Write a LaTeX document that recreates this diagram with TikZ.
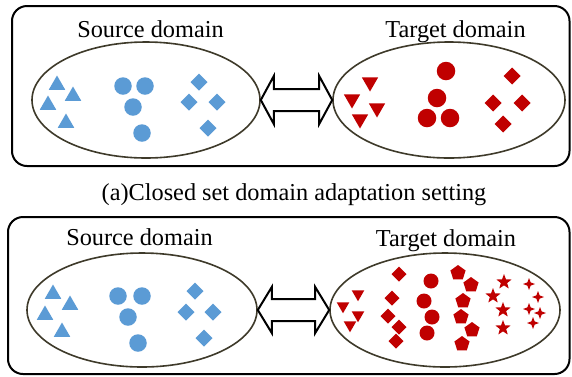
\documentclass[tikz,border=0pt]{standalone}
\usepackage{fontspec}
\setmainfont{Liberation Serif}
\usetikzlibrary{shapes.geometric,calc}
\definecolor{sblue}{RGB}{91,155,213}
\definecolor{tred}{RGB}{192,0,0}
\definecolor{ecol}{RGB}{62,58,42}
\begin{document}
\begin{tikzpicture}[x=1pt,y=-1pt,
  frame/.style={draw=black,line width=2pt,rounded corners=15pt},
  dom/.style={draw=ecol,line width=1.6pt,ellipse,inner sep=0pt},
  lbl/.style={font=\fontsize{24.3}{28}\selectfont,anchor=base,inner sep=0pt},
  dbl/.style={draw=black,line width=2pt,fill=white},
  mk/.style={inner sep=0pt,outer sep=0pt,draw=none},
  tri/.style={mk,regular polygon,regular polygon sides=3,minimum size=#1},
  vtri/.style={tri=#1,shape border rotate=180},
  dot/.style={mk,circle,minimum size=#1},
  dia/.style={mk,diamond,aspect=1,minimum width=#1,minimum height=#1},
  pent/.style={mk,regular polygon,regular polygon sides=5,minimum size=#1},
  fstar/.style={mk,star,star points=5,star point ratio=2.4,minimum size=#1},
  qstar/.style={mk,star,star points=4,star point ratio=2.6,minimum size=#1}
]
\useasboundingbox (0,0) rectangle (572,376);
\fill[white] (0,0) rectangle (572,376);

% ---------- panel (a) ----------
\draw[frame] (12,6) rectangle (569.5,166);
\node[dom,minimum width=228pt,minimum height=116pt] (srcA) at (146,100) {};
\node[dom,minimum width=232pt,minimum height=116pt] (tgtA) at (449,100) {};
\node[lbl] (srcAl) at (150.5,37) {Source domain};
\node[lbl] (tgtAl) at (455.5,37) {Target domain};
\draw[dbl] (srcA.east) -- ++(13,-24) -- ++(0,13)
  -- ($(tgtA.west)+(-13,-11)$) -- ++(0,-13) -- (tgtA.west)
  -- ++(-13,24) -- ++(0,-13) -- ($(srcA.east)+(13,11)$) -- ++(0,13) -- cycle;

\foreach \x/\y [count=\i] in {57/85,73/96,48/105,66/123}
  \node[tri=19pt,fill=sblue] (a-st\i) at (\x,\y) {};
\foreach \x/\y [count=\i] in {123/86,145/86,133/107,142/133}
  \node[dot=17.5pt,fill=sblue] (a-sc\i) at (\x,\y) {};
\foreach \x/\y [count=\i] in {199/82,189/102,217/102,208/128}
  \node[dia=17pt,fill=sblue] (a-sd\i) at (\x,\y) {};

\foreach \x/\y [count=\i] in {370/82,352/99,377/108,360/119}
  \node[vtri=19pt,fill=tred] (a-tt\i) at (\x,\y) {};
\foreach \x/\y [count=\i] in {446/71,437/98,427/118,450/118}
  \node[dot=18.5pt,fill=tred] (a-tc\i) at (\x,\y) {};
\foreach \x/\y [count=\i] in {512/76,493/103,522/103,503/124}
  \node[dia=17pt,fill=tred] (a-td\i) at (\x,\y) {};

\node[lbl] (capA) at (294,200) {(a)Closed set domain adaptation setting};

% ---------- panel (b) ----------
\draw[frame] (8,217) rectangle (569.5,374);
\node[dom,minimum width=230pt,minimum height=114pt] (srcB) at (142,310) {};
\node[dom,minimum width=230pt,minimum height=114pt] (tgtB) at (445,310) {};
\node[lbl] (srcBl) at (139.5,245) {Source domain};
\node[lbl] (tgtBl) at (446,246) {Target domain};
\draw[dbl] (srcB.east) -- ++(14,-23) -- ++(0,12)
  -- ($(tgtB.west)+(-14,-11)$) -- ++(0,-12) -- (tgtB.west)
  -- ++(-14,23) -- ++(0,-12) -- ($(srcB.east)+(14,11)$) -- ++(0,12) -- cycle;

\foreach \x/\y [count=\i] in {53/294,70/305,45/315,62/332}
  \node[tri=19pt,fill=sblue] (b-st\i) at (\x,\y) {};
\foreach \x/\y [count=\i] in {118/296,142/296,128/317,138/343}
  \node[dot=17.5pt,fill=sblue] (b-sc\i) at (\x,\y) {};
\foreach \x/\y [count=\i] in {195/291,186/312,213/312,204/338}
  \node[dia=17pt,fill=sblue] (b-sd\i) at (\x,\y) {};

\foreach \x/\y [count=\i] in {358/294,343/306,358/315,350/325}
  \node[vtri=14.5pt,fill=tred] (b-tt\i) at (\x,\y) {};
\foreach \x/\y [count=\i] in {399/274,392/298,388/316,399/327,396/341}
  \node[dia=15pt,fill=tred] (b-td\i) at (\x,\y) {};
\foreach \x/\y [count=\i] in {431/281,424/301,432/317,427/333}
  \node[dot=15pt,fill=tred] (b-tc\i) at (\x,\y) {};
\foreach \x/\y [count=\i] in {458/273,471/285,463/301,461/317,472/330,462/344}
  \node[pent=16pt,fill=tred] (b-tp\i) at (\x,\y) {};
\foreach \x/\y [count=\i] in {504/282,493/296,503/310,503/328}
  \node[fstar=16pt,fill=tred] (b-ts\i) at (\x,\y) {};
\foreach \x/\y [count=\i] in {529/284,538/297,529/309,540/313,533/323}
  \node[qstar=12pt,fill=tred] (b-tq\i) at (\x,\y) {};
\end{tikzpicture}
\end{document}
